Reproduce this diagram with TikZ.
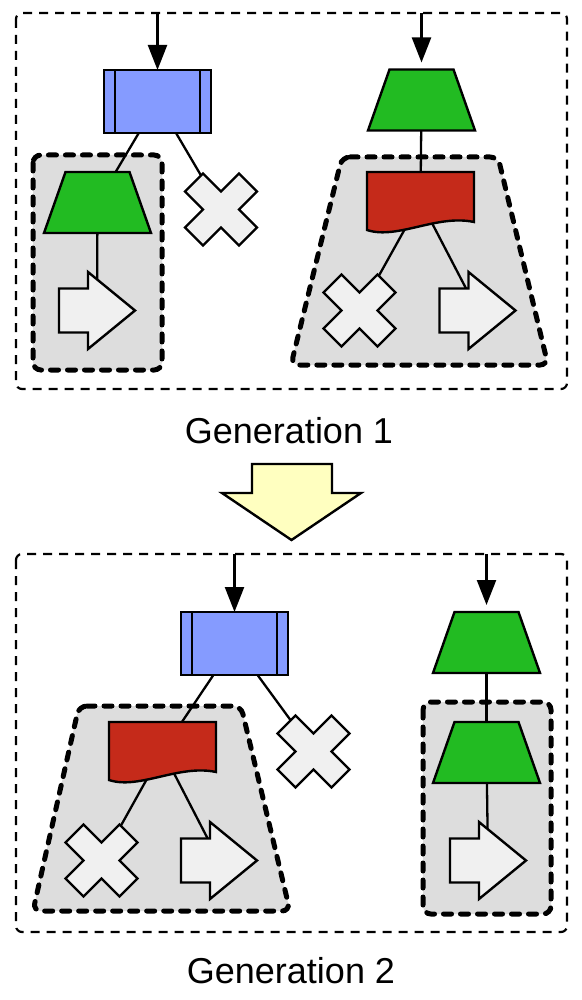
\documentclass[tikz,border=0pt]{standalone}
\usepackage{fontspec}
\setmainfont{Liberation Sans}
\usetikzlibrary{arrows.meta}
\pgfdeclarelayer{groups}
\pgfdeclarelayer{links}
\pgfsetlayers{groups,links,main}

\definecolor{procblue}{RGB}{133,155,255}
\definecolor{trapgreen}{RGB}{34,187,34}
\definecolor{docred}{RGB}{197,42,26}
\definecolor{shapegray}{RGB}{240,240,240}
\definecolor{groupgray}{RGB}{221,221,221}
\definecolor{flowyellow}{RGB}{255,255,192}

\tikzset{
  shapeline/.style={draw=black,line width=1.2pt,line join=miter},
  slot/.style 2 args={draw=none,fill=none,inner sep=0pt,outer sep=0pt,minimum width=#1,minimum height=#2},
  procbox/.style={shapeline,fill=procblue,inner sep=0pt,outer sep=0pt,minimum width=53.5pt,minimum height=31.5pt},
  link/.style={draw=black,line width=1.15pt},
  flowarrow/.style={draw=black,line width=1.15pt,-{Triangle[length=12.5pt,width=9.5pt]}},
  groupbox/.style={draw=black,line width=2.5pt,dash pattern=on 4pt off 4.5pt,line cap=round,fill=groupgray,rounded corners=4pt},
  outerbox/.style={draw=black,line width=1.1pt,dash pattern=on 4.5pt off 3.5pt,rounded corners=3pt},
  caption/.style={font=\fontsize{18pt}{21pt}\selectfont,anchor=base,inner sep=0pt}
}

\newcommand{\drawcross}[1]{\begin{scope}[shift={(#1.center)}]
  \draw[shapeline,fill=shapegray] (-18,-36) -- (0,-18) -- (18,-36) -- (36,-18) -- (18,0) -- (36,18) -- (18,36) -- (0,18) -- (-18,36) -- (-36,18) -- (-18,0) -- (-36,-18) -- cycle;
  \end{scope}}
\newcommand{\drawrarrow}[1]{\begin{scope}[shift={(#1.center)}]
  \draw[shapeline,fill=shapegray] (-38,-22) -- (-9,-22) -- (-9,-38.5) -- (38,0) -- (-9,38.5) -- (-9,22) -- (-38,22) -- cycle;
  \end{scope}}
\newcommand{\drawtrap}[1]{\begin{scope}[shift={(#1.center)}]
  \draw[shapeline,fill=trapgreen] (-32,-30.5) -- (32,-30.5) -- (53.5,30.5) -- (-53.5,30.5) -- cycle;
  \end{scope}}
\newcommand{\drawdoc}[1]{\begin{scope}[shift={(#1.center)}]
  \draw[shapeline,fill=docred] (-53.5,29) -- (-53.5,-29) -- (53.5,-29) -- (53.5,21) .. controls (16.5,13) and (-23.5,39) .. (-53.5,29) -- cycle;
  \end{scope}}
\newcommand{\procbars}[1]{\draw[shapeline] ([xshift=5.5pt]#1.north west) -- ([xshift=5.5pt]#1.south west);
  \draw[shapeline] ([xshift=-5.5pt]#1.north east) -- ([xshift=-5.5pt]#1.south east);}

\begin{document}
\begin{tikzpicture}[x=0.5pt,y=-0.5pt]
\useasboundingbox (0,0) rectangle (582,1000);

% ---------- Generation 1 ----------
\begin{pgfonlayer}{groups}
  \draw[outerbox] (16,13) rectangle (567,389);
  \draw[groupbox] (33,155) rectangle (162,370);
  \draw[groupbox] (342,157) -- (498,157) -- (548,365) -- (291,365) -- cycle;
\end{pgfonlayer}

\coordinate (in1) at (157.5,13);
\coordinate (in2) at (421.5,13);
\node[procbox] (b1) at (157.5,101.5) {};
\procbars{b1}
\node[slot={53.5pt}{30.5pt}] (t1) at (97.5,202.5) {};
\node[slot={36pt}{36pt}] (c1) at (221,209.5) {};
\node[slot={38pt}{38.5pt}] (a1) at (97,310.5) {};
\node[slot={53.5pt}{30.5pt}] (t2) at (421.5,100) {};
\node[slot={53.5pt}{29pt}] (d1) at (420.5,201) {};
\node[slot={36pt}{36pt}] (c2) at (359.5,310.5) {};
\node[slot={38pt}{38.5pt}] (a2) at (477.5,310.5) {};
\drawtrap{t1}
\drawcross{c1}
\drawrarrow{a1}
\drawtrap{t2}
\drawdoc{d1}
\drawcross{c2}
\drawrarrow{a2}

\begin{pgfonlayer}{links}
  \draw[flowarrow] (in1) -- (b1);
  \draw[flowarrow,shorten >=3.5pt] (in2) -- (t2.north);
  \draw[link] (b1.center) -- (t1.center);
  \draw[link] (b1.center) -- (c1.center);
  \draw[link] (t1.center) -- (a1.center);
  \draw[link] (t2.center) -- (d1.center);
  \draw[link] (d1.center) -- (c2.center);
  \draw[link] (d1.center) -- (a2.center);
\end{pgfonlayer}

\node[caption] (cap1) at (289,443) {Generation 1};

% ---------- transition arrow ----------
\draw[shapeline,fill=flowyellow] (252,464) -- (332,464) -- (332,493) -- (361,493) -- (291.5,540) -- (222,493) -- (252,493) -- cycle;

% ---------- Generation 2 ----------
\begin{pgfonlayer}{groups}
  \draw[outerbox] (16,554) rectangle (567,932);
  \draw[groupbox] (79,706) -- (241,706) -- (290,911) -- (33,911) -- cycle;
  \draw[groupbox] (423,702) rectangle (551,914);
\end{pgfonlayer}

\coordinate (in3) at (234.5,554);
\coordinate (in4) at (486.5,554);
\node[procbox] (b2) at (234.5,643.5) {};
\procbars{b2}
\node[slot={53.5pt}{29pt}] (d2) at (162.5,751) {};
\node[slot={36pt}{36pt}] (c3) at (101.5,860.5) {};
\node[slot={38pt}{38.5pt}] (a3) at (219,860.5) {};
\node[slot={36pt}{36pt}] (c4) at (313.5,751.5) {};
\node[slot={53.5pt}{30.5pt}] (t3) at (486.5,642.5) {};
\node[slot={53.5pt}{30.5pt}] (t4) at (486.5,752.5) {};
\node[slot={38pt}{38.5pt}] (a4) at (488,860.5) {};
\drawdoc{d2}
\drawcross{c3}
\drawrarrow{a3}
\drawcross{c4}
\drawtrap{t3}
\drawtrap{t4}
\drawrarrow{a4}

\begin{pgfonlayer}{links}
  \draw[flowarrow] (in3) -- (b2);
  \draw[flowarrow,shorten >=3.5pt] (in4) -- (t3.north);
  \draw[link] (b2.center) -- (d2.center);
  \draw[link] (b2.center) -- (c4.center);
  \draw[link] (d2.center) -- (c3.center);
  \draw[link] (d2.center) -- (a3.center);
  \draw[link] (t3.center) -- (t4.center);
  \draw[link] (t4.center) -- (a4.center);
\end{pgfonlayer}

\node[caption] (cap2) at (291,983) {Generation 2};
\end{tikzpicture}
\end{document}
